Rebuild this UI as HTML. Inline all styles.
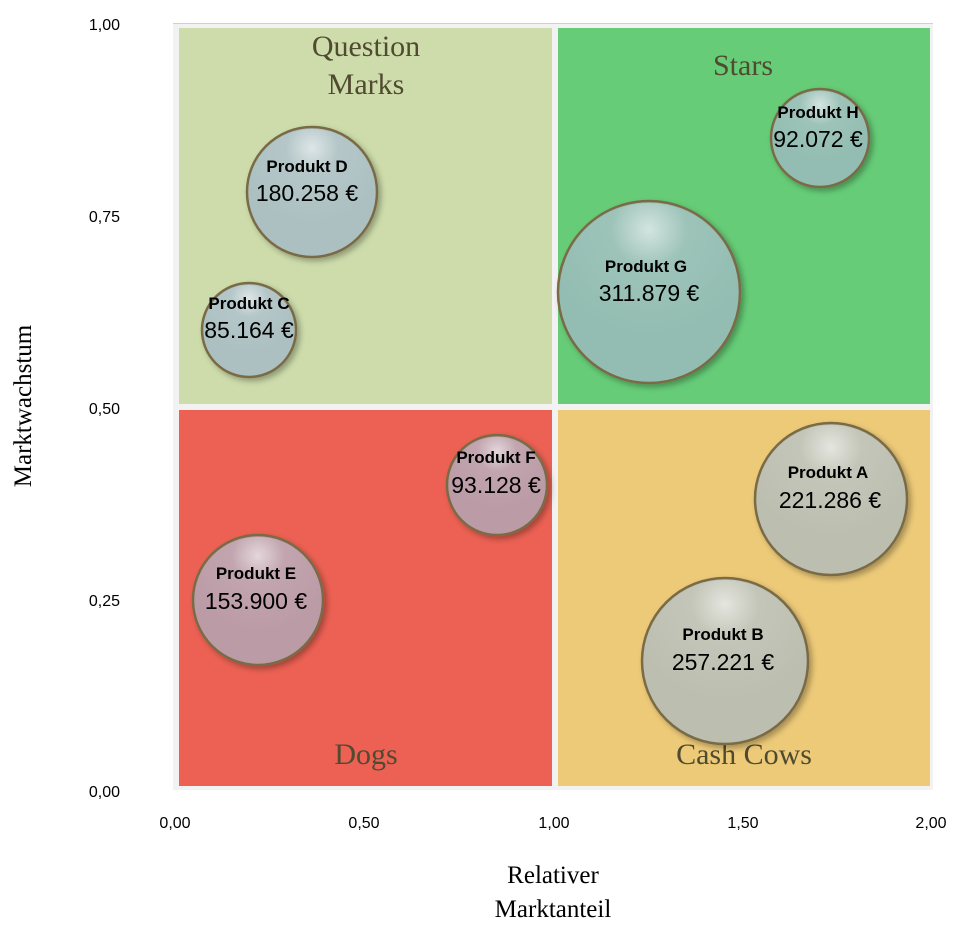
<!DOCTYPE html>
<html><head><meta charset="utf-8"><style>
body{margin:0;background:#fff;width:956px;height:928px;overflow:hidden}
svg{display:block}
.t{font-family:"Liberation Sans",sans-serif;fill:#000}
.q{font-family:"Liberation Serif",serif;font-size:30px;fill:#4f4a30}
.ax{font-family:"Liberation Sans",sans-serif;font-size:16px;fill:#000}
</style></head><body>
<svg width="956" height="928" viewBox="0 0 956 928">
<defs>
<radialGradient id="hl" cx="0.5" cy="0.15" r="0.6">
<stop offset="0" stop-color="#fff" stop-opacity="0.6"/>
<stop offset="0.35" stop-color="#fff" stop-opacity="0.1"/>
<stop offset="1" stop-color="#fff" stop-opacity="0"/>
</radialGradient>
<filter id="sh" x="-20%" y="-20%" width="150%" height="150%"><feDropShadow dx="3" dy="3" stdDeviation="3" flood-color="#000" flood-opacity="0.3"/></filter>
</defs>
<rect x="173" y="23" width="760" height="767" fill="#f2f2f2"/>
<line x1="173" y1="23.5" x2="933" y2="23.5" stroke="#d8d3b8" stroke-width="1"/>
<rect x="179" y="28" width="373" height="376" fill="#cddcaa"/>
<rect x="558" y="28" width="372" height="376" fill="#66cc77"/>
<rect x="179" y="410" width="373" height="376" fill="#ec6153"/>
<rect x="558" y="410" width="372" height="376" fill="#edca78"/>
<text class="q" x="366" y="56" text-anchor="middle">Question</text>
<text class="q" x="366" y="94" text-anchor="middle">Marks</text>
<text class="q" x="743" y="75" text-anchor="middle">Stars</text>
<text class="q" x="366" y="764" text-anchor="middle">Dogs</text>
<text class="q" x="744" y="764" text-anchor="middle">Cash Cows</text>

<g filter="url(#sh)" stroke="#7a6b45" stroke-width="2.5">
<circle cx="312" cy="192" r="65" fill="#acc0c2"/>
<circle cx="249" cy="330" r="47" fill="#acc0c2"/>
<circle cx="820" cy="138" r="49" fill="#93bdb2"/>
<circle cx="649" cy="292" r="91" fill="#93bdb2"/>
<circle cx="497" cy="485" r="50" fill="#bb9ba6"/>
<circle cx="258" cy="600" r="65" fill="#bb9ba6"/>
<circle cx="831" cy="499" r="76" fill="#bcbfb0"/>
<circle cx="725" cy="661" r="83" fill="#bcbfb0"/>
</g>
<g fill="url(#hl)">
<circle cx="312" cy="192" r="63"/><circle cx="249" cy="330" r="45"/>
<circle cx="820" cy="138" r="47"/><circle cx="649" cy="292" r="89"/>
<circle cx="497" cy="485" r="48"/><circle cx="258" cy="600" r="63"/>
<circle cx="831" cy="499" r="74"/><circle cx="725" cy="661" r="81"/>
</g>
<g class="t" text-anchor="middle">
<text x="307" y="172" font-size="17" font-weight="bold">Produkt D</text><text x="307" y="201" font-size="23">180.258 €</text>
<text x="249" y="309" font-size="17" font-weight="bold">Produkt C</text><text x="249" y="338" font-size="23">85.164 €</text>
<text x="818" y="118" font-size="17" font-weight="bold">Produkt H</text><text x="818" y="147" font-size="23">92.072 €</text>
<text x="646" y="272" font-size="17" font-weight="bold">Produkt G</text><text x="649" y="301" font-size="23">311.879 €</text>
<text x="496" y="463" font-size="17" font-weight="bold">Produkt F</text><text x="496" y="493" font-size="23">93.128 €</text>
<text x="256" y="579" font-size="17" font-weight="bold">Produkt E</text><text x="256" y="609" font-size="23">153.900 €</text>
<text x="828" y="478" font-size="17" font-weight="bold">Produkt A</text><text x="830" y="508" font-size="23">221.286 €</text>
<text x="723" y="640" font-size="17" font-weight="bold">Produkt B</text><text x="723" y="670" font-size="23">257.221 €</text>
</g>
<g class="ax" text-anchor="end">
<text x="120" y="30">1,00</text><text x="120" y="222">0,75</text>
<text x="120" y="414">0,50</text><text x="120" y="606">0,25</text>
<text x="120" y="797">0,00</text>
</g>
<g class="ax" text-anchor="middle">
<text x="175" y="828">0,00</text><text x="364" y="828">0,50</text>
<text x="554" y="828">1,00</text><text x="743" y="828">1,50</text>
<text x="931" y="828">2,00</text>
</g>
<text x="553" y="883" text-anchor="middle" font-family="Liberation Serif,serif" font-size="25">Relativer</text>
<text x="553" y="917" text-anchor="middle" font-family="Liberation Serif,serif" font-size="25">Marktanteil</text>
<text transform="translate(31,406) rotate(-90)" text-anchor="middle" font-family="Liberation Serif,serif" font-size="25">Marktwachstum</text>
</svg>
</body></html>
